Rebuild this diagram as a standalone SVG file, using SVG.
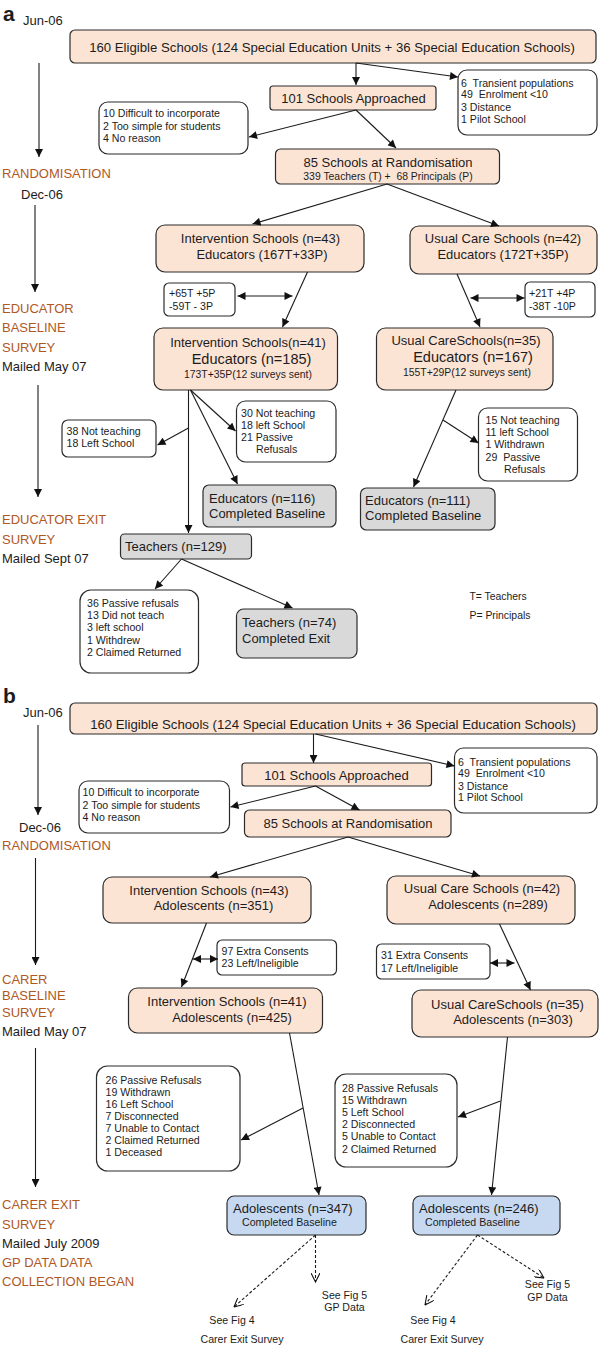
<svg xmlns="http://www.w3.org/2000/svg" width="600" height="1345" viewBox="0 0 600 1345">
<style>
.bx{stroke:#2b2b2b;stroke-width:1.2}
.pe{fill:#FCE4D5}
.gr{fill:#D9D9D9}
.bl{fill:#C6D9F1}
.wh{fill:#fff}
text{font-family:"Liberation Sans",Arial,sans-serif;fill:#1c1c1c}
.m{font-size:13px}
.top{font-size:13.2px}
.xl{font-size:14.5px}
.s{font-size:10.6px}
.xs{font-size:10.4px}
.c{text-anchor:middle}
.br{fill:#B0581F}
.lab{font-size:21px;font-weight:bold}
.ln{stroke:#1a1a1a;stroke-width:1.1;fill:none}
.a{marker-end:url(#ah)}
.d{marker-start:url(#ah);marker-end:url(#ah)}
.ds{stroke-dasharray:3 2;marker-end:url(#oh)}
</style>
<defs>
<marker id="ah" viewBox="0 0 10 10" refX="10" refY="5" markerWidth="9" markerHeight="8" markerUnits="userSpaceOnUse" orient="auto-start-reverse"><path d="M0,0 L10,5 L0,10 z" fill="#111"/></marker>
<marker id="oh" viewBox="0 0 10 10" refX="10" refY="5" markerWidth="10" markerHeight="9" markerUnits="userSpaceOnUse" orient="auto"><path d="M0,0 L10,5 L0,10" fill="none" stroke="#111" stroke-width="1.2"/></marker>
</defs>

<g id="timeline-a">
<text x="3" y="21" class="lab">a</text>
<text x="23" y="25" class="m">Jun-06</text>
<line x1="39" y1="63" x2="39" y2="157" class="ln a"/>
<text x="2" y="177.5" class="m br">RANDOMISATION</text>
<text x="21" y="198.5" class="m">Dec-06</text>
<line x1="35" y1="205" x2="35" y2="292" class="ln a"/>
<text x="2" y="312.5" class="m br">EDUCATOR</text>
<text x="2" y="331.5" class="m br">BASELINE</text>
<text x="2" y="351.5" class="m br">SURVEY</text>
<text x="2" y="371" class="m">Mailed May 07</text>
<line x1="38" y1="385" x2="38" y2="497" class="ln a"/>
<text x="2" y="523.5" class="m br">EDUCATOR EXIT</text>
<text x="2" y="543.5" class="m br">SURVEY</text>
<text x="2" y="562.5" class="m">Mailed Sept 07</text>
</g>

<g id="a-eligible"><rect x="70" y="30" width="526" height="33" rx="5" class="bx pe"/><text x="332" y="51.5" class="top c">160 Eligible Schools (124 Special Education Units + 36 Special Education Schools)</text></g>
<g id="a-excluded"><rect x="458" y="70" width="139" height="65" rx="9" class="bx wh"/><text class="s" xml:space="preserve"><tspan x="461" y="86.5">6  Transient populations</tspan><tspan x="461" y="98">49  Enrolment &lt;10</tspan><tspan x="461" y="110.5">3 Distance</tspan><tspan x="461" y="122.5">1 Pilot School</tspan></text></g>
<g id="a-approached"><rect x="270" y="86" width="166" height="24" rx="3" class="bx pe"/><text x="353.5" y="102.5" class="m c">101 Schools Approached</text></g>
<g id="a-declined"><rect x="99" y="102" width="149" height="52" rx="9" class="bx wh"/><text class="s"><tspan x="103" y="117">10 Difficult to incorporate</tspan><tspan x="103" y="129.5">2 Too simple for students</tspan><tspan x="103" y="141.5">4 No reason</tspan></text></g>
<g id="a-randomisation"><rect x="275.5" y="149" width="224" height="35" rx="5" class="bx pe"/><text x="388" y="166.5" class="m c">85 Schools at Randomisation</text><text x="388" y="180" class="xs c" xml:space="preserve">339 Teachers (T) +  68 Principals (P)</text></g>
<g id="a-int43"><rect x="156" y="225" width="208" height="47" rx="9" class="bx pe"/><text x="260.5" y="242.5" class="m c">Intervention Schools (n=43)</text><text x="262" y="258.5" class="m c">Educators (167T+33P)</text></g>
<g id="a-uc42"><rect x="410" y="226" width="187" height="48" rx="9" class="bx pe"/><text x="503" y="242.5" class="m c">Usual Care Schools (n=42)</text><text x="503" y="258.5" class="m c">Educators (172T+35P)</text></g>
<g id="a-adj-int"><rect x="164" y="283" width="71" height="33" rx="5" class="bx wh"/><text class="s"><tspan x="169" y="297">+65T +5P</tspan><tspan x="169" y="310">-59T - 3P</tspan></text></g>
<g id="a-adj-uc"><rect x="525" y="282" width="70" height="35" rx="5" class="bx wh"/><text class="s"><tspan x="529" y="297">+21T +4P</tspan><tspan x="529" y="310">-38T -10P</tspan></text></g>
<g id="a-int41"><rect x="154" y="328" width="183.5" height="62" rx="9" class="bx pe"/><text x="248" y="346.5" class="m c">Intervention Schools(n=41)</text><text x="251.5" y="363.5" class="xl c">Educators (n=185)</text><text x="248" y="377.5" class="xs c">173T+35P(12 surveys sent)</text></g>
<g id="a-uc35"><rect x="376.5" y="328" width="176.5" height="62" rx="9" class="bx pe"/><text x="466" y="344.5" class="m c">Usual CareSchools(n=35)</text><text x="473" y="361.5" class="xl c">Educators (n=167)</text><text x="467" y="375.5" class="xs c">155T+29P(12 surveys sent)</text></g>
<g id="a-lost38"><rect x="62" y="420" width="94" height="37" rx="6" class="bx wh"/><text class="s"><tspan x="66.5" y="435">38 Not teaching</tspan><tspan x="66.5" y="447">18 Left School</tspan></text></g>
<g id="a-lost30"><rect x="236.5" y="401" width="99.5" height="61" rx="9" class="bx wh"/><text class="s"><tspan x="241" y="416.5">30 Not teaching</tspan><tspan x="241" y="428.5">18 left School</tspan><tspan x="241" y="440.5">21 Passive</tspan><tspan x="256" y="452.5">Refusals</tspan></text></g>
<g id="a-lost15"><rect x="478.5" y="408" width="99" height="73" rx="9" class="bx wh"/><text class="s" xml:space="preserve"><tspan x="485.5" y="423.5">15 Not teaching</tspan><tspan x="485.5" y="435.5">11 left School</tspan><tspan x="485.5" y="447.5">1 Withdrawn</tspan><tspan x="485.5" y="460.5">29  Passive</tspan><tspan x="504" y="472.5">Refusals</tspan></text></g>
<g id="a-ed116"><rect x="203" y="485" width="133" height="42" rx="6" class="bx gr"/><text class="m"><tspan x="209" y="502.5">Educators (n=116)</tspan><tspan x="209" y="517.5">Completed Baseline</tspan></text></g>
<g id="a-ed111"><rect x="360.5" y="488" width="134.5" height="42" rx="6" class="bx gr"/><text class="m"><tspan x="365" y="504.5">Educators (n=111)</tspan><tspan x="365" y="519.5">Completed Baseline</tspan></text></g>
<g id="a-t129"><rect x="120.5" y="534" width="131" height="25" rx="4" class="bx gr"/><text x="125" y="551" class="m">Teachers (n=129)</text></g>
<g id="a-lost36"><rect x="80" y="590" width="118.5" height="83" rx="11" class="bx wh"/><text class="s"><tspan x="87" y="607">36 Passive refusals</tspan><tspan x="87" y="619">13 Did not teach</tspan><tspan x="87" y="631">3 left school</tspan><tspan x="87" y="644">1 Withdrew</tspan><tspan x="87" y="656">2 Claimed Returned</tspan></text></g>
<g id="a-t74"><rect x="236.5" y="609" width="120.5" height="49" rx="7" class="bx gr"/><text class="m"><tspan x="242" y="627">Teachers (n=74)</tspan><tspan x="242" y="643">Completed Exit</tspan></text></g>
<g id="a-legend"><text x="469.5" y="599.5" class="xs">T= Teachers</text><text x="469.5" y="618.5" class="xs">P= Principals</text></g>

<g id="connectors-a">
<line x1="356" y1="63" x2="356" y2="85" class="ln a"/>
<line x1="356" y1="63" x2="458" y2="77" class="ln a"/>
<line x1="356" y1="110" x2="249" y2="137" class="ln a"/>
<line x1="356" y1="110" x2="396" y2="148" class="ln a"/>
<line x1="387" y1="184" x2="252.5" y2="224" class="ln a"/>
<line x1="387" y1="184" x2="499" y2="226" class="ln a"/>
<line x1="307.5" y1="272" x2="282.5" y2="327" class="ln a"/>
<line x1="237.5" y1="296" x2="292.5" y2="296" class="ln d"/>
<line x1="457" y1="274" x2="480" y2="327" class="ln a"/>
<line x1="470.5" y1="298" x2="524.5" y2="298" class="ln d"/>
<line x1="188.5" y1="390" x2="188.5" y2="533" class="ln a"/>
<line x1="188.5" y1="428" x2="157.5" y2="445" class="ln a"/>
<line x1="190.5" y1="390" x2="235.5" y2="431" class="ln a"/>
<line x1="190.5" y1="390" x2="237.5" y2="484" class="ln a"/>
<line x1="456" y1="390" x2="413.5" y2="487" class="ln a"/>
<line x1="443" y1="420" x2="478.5" y2="443" class="ln a"/>
<line x1="181.5" y1="559" x2="155" y2="589" class="ln a"/>
<line x1="181.5" y1="559" x2="292.5" y2="608" class="ln a"/>
</g>

<g id="timeline-b">
<text x="3" y="703" class="lab">b</text>
<text x="23" y="717" class="m">Jun-06</text>
<line x1="38" y1="725" x2="38" y2="815" class="ln a"/>
<text x="19" y="831.5" class="m">Dec-06</text>
<text x="2" y="849.5" class="m br">RANDOMISATION</text>
<line x1="35.5" y1="858" x2="35.5" y2="965" class="ln a"/>
<text x="2" y="983.5" class="m br">CARER</text>
<text x="2" y="999.5" class="m br">BASELINE</text>
<text x="2" y="1016.5" class="m br">SURVEY</text>
<text x="2" y="1035.5" class="m">Mailed May 07</text>
<line x1="35.5" y1="1048" x2="35.5" y2="1187" class="ln a"/>
<text x="2" y="1208.5" class="m br">CARER EXIT</text>
<text x="2" y="1228.5" class="m br">SURVEY</text>
<text x="2" y="1247.5" class="m">Mailed July 2009</text>
<text x="2" y="1266.5" class="m br">GP DATA DATA</text>
<text x="2" y="1285.5" class="m br">COLLECTION BEGAN</text>
</g>

<g id="b-eligible"><rect x="70" y="703" width="527" height="31" rx="5" class="bx pe"/><text x="333" y="728.5" class="top c">160 Eligible Schools (124 Special Education Units + 36 Special Education Schools)</text></g>
<g id="b-excluded"><rect x="454.5" y="748" width="142.5" height="65" rx="9" class="bx wh"/><text class="s" xml:space="preserve"><tspan x="458" y="766">6  Transient populations</tspan><tspan x="458" y="777">49  Enrolment &lt;10</tspan><tspan x="458" y="790">3 Distance</tspan><tspan x="458" y="801">1 Pilot School</tspan></text></g>
<g id="b-approached"><rect x="242" y="763" width="189.5" height="23" rx="3" class="bx pe"/><text x="336.5" y="779.5" class="m c">101 Schools Approached</text></g>
<g id="b-declined"><rect x="79" y="781" width="150.5" height="52" rx="9" class="bx wh"/><text class="s"><tspan x="82.5" y="796">10 Difficult to incorporate</tspan><tspan x="82.5" y="809">2 Too simple for students</tspan><tspan x="82.5" y="821">4 No reason</tspan></text></g>
<g id="b-randomisation"><rect x="244.5" y="810" width="206.5" height="27" rx="5" class="bx pe"/><text x="348" y="827.5" class="m c">85 Schools at Randomisation</text></g>
<g id="b-int43"><rect x="103" y="877" width="208" height="46" rx="9" class="bx pe"/><text x="209" y="894.5" class="m c">Intervention Schools (n=43)</text><text x="213.5" y="909.5" class="m c">Adolescents (n=351)</text></g>
<g id="b-uc42"><rect x="387" y="876" width="188" height="48" rx="9" class="bx pe"/><text x="482" y="892.5" class="m c">Usual Care Schools (n=42)</text><text x="488" y="908.5" class="m c">Adolescents (n=289)</text></g>
<g id="b-adj-int"><rect x="217" y="940" width="119.5" height="35" rx="5" class="bx wh"/><text class="s"><tspan x="221.5" y="955">97 Extra Consents</tspan><tspan x="221.5" y="967">23 Left/Ineligible</tspan></text></g>
<g id="b-adj-uc"><rect x="376.5" y="944" width="113.5" height="35" rx="5" class="bx wh"/><text class="s"><tspan x="381" y="959">31 Extra Consents</tspan><tspan x="381" y="972">17 Left/Ineligible</tspan></text></g>
<g id="b-int41"><rect x="128.5" y="988" width="194" height="45" rx="9" class="bx pe"/><text x="227" y="1005.5" class="m c">Intervention Schools (n=41)</text><text x="232" y="1021.5" class="m c">Adolescents (n=425)</text></g>
<g id="b-uc35"><rect x="412" y="990" width="186" height="47" rx="9" class="bx pe"/><text x="507.5" y="1008.5" class="m c">Usual CareSchools (n=35)</text><text x="513" y="1023.5" class="m c">Adolescents (n=303)</text></g>
<g id="b-lost26"><rect x="96.5" y="1066" width="143.5" height="105" rx="11" class="bx wh"/><text class="s"><tspan x="105.5" y="1084">26 Passive Refusals</tspan><tspan x="105.5" y="1096">19 Withdrawn</tspan><tspan x="105.5" y="1108">16 Left School</tspan><tspan x="105.5" y="1120">7 Disconnected</tspan><tspan x="105.5" y="1132">7 Unable to Contact</tspan><tspan x="105.5" y="1144">2 Claimed Returned</tspan><tspan x="105.5" y="1156">1 Deceased</tspan></text></g>
<g id="b-lost28"><rect x="335" y="1074" width="122" height="93" rx="11" class="bx wh"/><text class="s"><tspan x="342" y="1092">28 Passive Refusals</tspan><tspan x="342" y="1104">15 Withdrawn</tspan><tspan x="342" y="1116">5 Left School</tspan><tspan x="342" y="1128">2 Disconnected</tspan><tspan x="342" y="1140">5 Unable to Contact</tspan><tspan x="342" y="1153">2 Claimed Returned</tspan></text></g>
<g id="b-ad347"><rect x="227" y="1196" width="139" height="39" rx="7" class="bx bl"/><text x="233" y="1212.5" class="m">Adolescents (n=347)</text><text x="242" y="1226" class="s">Completed Baseline</text></g>
<g id="b-ad246"><rect x="413" y="1196" width="147" height="39" rx="7" class="bx bl"/><text x="419" y="1212.5" class="m">Adolescents (n=246)</text><text x="425" y="1226" class="s">Completed Baseline</text></g>
<g id="b-refs">
<text class="s c"><tspan x="344.5" y="1299">See Fig 5</tspan><tspan x="344.5" y="1311">GP Data</tspan></text>
<text x="232" y="1324" class="s c">See Fig 4</text><text x="242" y="1343" class="s c">Carer Exit Survey</text>
<text class="s c"><tspan x="547.5" y="1288">See Fig 5</tspan><tspan x="547.5" y="1301">GP Data</tspan></text>
<text x="433" y="1324" class="s c">See Fig 4</text><text x="442" y="1343" class="s c">Carer Exit Survey</text>
</g>

<g id="connectors-b">
<line x1="313.5" y1="734" x2="313.5" y2="763" class="ln a"/>
<line x1="315.5" y1="734" x2="454.5" y2="766" class="ln a"/>
<line x1="315.5" y1="786" x2="230.5" y2="807" class="ln a"/>
<line x1="315.5" y1="786" x2="359.5" y2="810" class="ln a"/>
<line x1="348" y1="837" x2="210" y2="877" class="ln a"/>
<line x1="348" y1="837" x2="480" y2="876" class="ln a"/>
<line x1="206.5" y1="923" x2="181.5" y2="987" class="ln a"/>
<line x1="193" y1="959" x2="218" y2="959" class="ln d"/>
<line x1="499.5" y1="924" x2="530.5" y2="990" class="ln a"/>
<line x1="490" y1="963" x2="514.5" y2="963" class="ln d"/>
<line x1="289.5" y1="1033" x2="319" y2="1195" class="ln a"/>
<line x1="303" y1="1108" x2="241" y2="1140" class="ln a"/>
<line x1="507.5" y1="1037" x2="491.5" y2="1195" class="ln a"/>
<line x1="500.5" y1="1101" x2="458" y2="1117" class="ln a"/>
<line x1="315.5" y1="1235" x2="315.5" y2="1282" class="ln ds"/>
<line x1="315.5" y1="1235" x2="234" y2="1307" class="ln ds"/>
<line x1="477.5" y1="1235" x2="425" y2="1305" class="ln ds"/>
<line x1="477.5" y1="1235" x2="544" y2="1278" class="ln ds"/>
</g>
</svg>
